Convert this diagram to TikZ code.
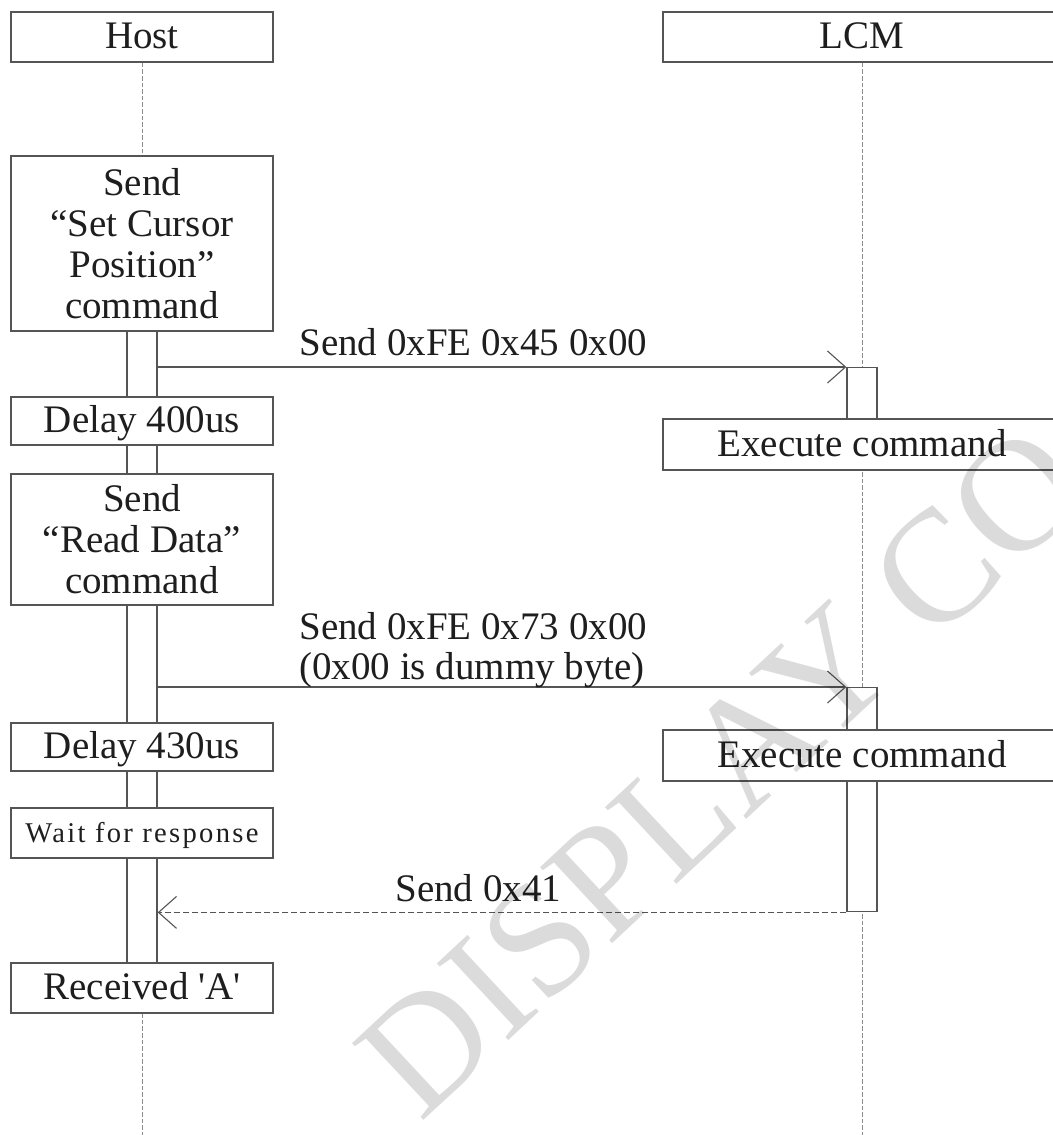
\documentclass[tikz,border=0pt]{standalone}
\usepackage{fontspec}
\setmainfont{Liberation Serif}
\usetikzlibrary{arrows.meta}
\definecolor{linecol}{HTML}{555555}
\definecolor{textcol}{HTML}{1E1E1E}
\definecolor{lifecol}{HTML}{8C8C8C}
\begin{document}
\begin{tikzpicture}[x=0.5pt,y=-0.5pt,
  box/.style={draw=linecol, line width=0.7pt, fill=white, inner sep=0pt,
    minimum width=131pt, text=textcol, font=\fontsize{19.5}{20.5}\selectfont, align=center},
  one/.style={text height=11.5pt, text depth=0pt},
  bar/.style={draw=linecol, line width=0.7pt, fill=white, inner sep=0pt, minimum width=15pt},
  life/.style={draw=lifecol, line width=0.5pt, dash pattern=on 2.3pt off 1pt},
  msg/.style={draw=linecol, line width=0.55pt,
    -{Straight Barb[length=9pt,width=16pt,line width=0.55pt]}},
  reply/.style={msg, dash pattern=on 3pt off 1.5pt},
  lbl/.style={text=textcol, font=\fontsize{19.5}{21}\selectfont, inner sep=0pt, anchor=base west}
]
\path[use as bounding box] (0,0) rectangle (1053,1135);
\clip (0,0) rectangle (1053,1135);
\coordinate (bot) at (0,1135);

% heads
\node[box, one, minimum height=25pt] (host) at (142,37) {Host};
\node[box, one, minimum height=25pt, minimum width=199pt] (lcm) at (862,37) {LCM};

% lifelines
\draw[life] (host.south) -- (host.south |- bot);
\draw[life] (lcm.south) -- (lcm.south |- bot);

% activation bars
\node[bar, anchor=north, minimum height=428.5pt] (hbar) at (142,156) {};
\node[bar, anchor=north, minimum height=51.5pt] (lb1) at (862,367) {};
\node[bar, anchor=north, minimum height=112pt] (lb2) at (862,687) {};

% host boxes
\node[box, minimum height=87.5pt] (b1) at (142,243.5) {Send\\“Set Cursor\\Position”\\command};
\node[box, one, minimum height=24pt] (b2) at (142,421) {Delay 400us};
\node[box, minimum height=65.5pt] (b3) at (142,539.5) {Send\\“Read Data”\\command};
\node[box, one, minimum height=24pt] (b4) at (142,747) {Delay 430us};
\node[box, minimum height=25pt, text height=9pt, text depth=0pt,
  font=\fontsize{14.3}{16}\selectfont\addfontfeatures{LetterSpace=8}] (b5) at (142,833) {Wait for response};
\node[box, one, minimum height=25pt] (b6) at (142,988) {Received \textquotesingle A\textquotesingle};

% LCM boxes
\node[box, one, minimum height=25.5pt, minimum width=199pt] (e1) at (862,444.5) {Execute command};
\node[box, one, minimum height=25.5pt, minimum width=199pt] (e2) at (862,755.5) {Execute command};

% messages
\draw[msg] (hbar.east |- lb1.north) -- (lb1.north west);
\draw[msg] (hbar.east |- lb2.north) -- (lb2.north west);
\draw[reply] (lb2.south west) -- (hbar.east |- lb2.south);

\node[lbl] (t1) at (299,355) {Send 0xFE 0x45 0x00};
\node[lbl] (t2) at (299,639) {Send 0xFE 0x73 0x00};
\node[lbl] (t3) at (299,679) {(0x00 is dummy byte)};
\node[lbl] (t4) at (395,901) {Send 0x41};

% watermark
\node[anchor=base west, rotate=43, inner sep=0pt, text=black, opacity=0.14,
  font=\fontsize{80}{84}\selectfont] (wm) at (420,1124) {DISPLAY CO};
\end{tikzpicture}
\end{document}
